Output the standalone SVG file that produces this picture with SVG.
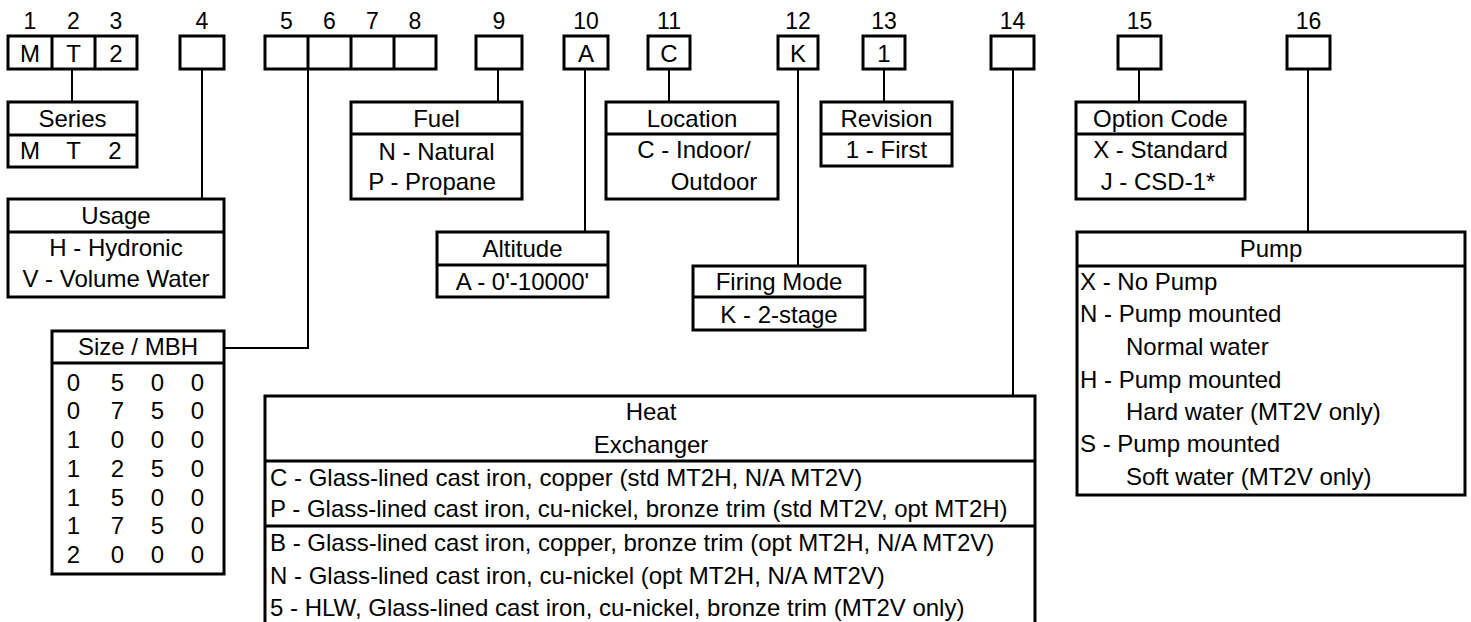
<svg xmlns="http://www.w3.org/2000/svg" width="1471" height="622" viewBox="0 0 1471 622">
<style>
.b{fill:none;stroke:#000;stroke-width:3}
.l{fill:none;stroke:#000;stroke-width:3}
.k{fill:none;stroke:#000;stroke-width:2}
text{font-family:"Liberation Sans",Arial,sans-serif;font-size:24px;fill:#000}
.m{text-anchor:middle}
.n{font-size:23px;text-anchor:middle}
</style>
<rect x="0" y="0" width="1471" height="622" fill="#fff"/>
<g id="connectors">
<path class="k" d="M72 69V102"/>
<path class="k" d="M202 69V199"/>
<path class="k" d="M308 69V348H224"/>
<path class="k" d="M498 69V102"/>
<path class="k" d="M585 69V232"/>
<path class="k" d="M669 69V102"/>
<path class="k" d="M798 69V266"/>
<path class="k" d="M884 69V102"/>
<path class="k" d="M1013 69V396"/>
<path class="k" d="M1139 69V102"/>
<path class="k" d="M1308 69V232"/>
</g>
<g id="code-boxes">
<text class="n" x="30" y="29">1</text>
<text class="n" x="73.5" y="29">2</text>
<text class="n" x="116" y="29">3</text>
<rect class="b" x="8" y="36" width="129" height="33"/>
<path class="l" d="M52 36V69M95 36V69"/>
<text class="m" x="30" y="62">M</text>
<text class="m" x="73.5" y="62">T</text>
<text class="m" x="116" y="62">2</text>
<text class="n" x="202" y="29">4</text>
<rect class="b" x="180" y="36" width="44" height="33"/>
<text class="n" x="286.5" y="29">5</text>
<text class="n" x="329.5" y="29">6</text>
<text class="n" x="372.5" y="29">7</text>
<text class="n" x="415" y="29">8</text>
<rect class="b" x="265" y="36" width="171" height="33"/>
<path class="l" d="M308 36V69M351 36V69M394 36V69"/>
<text class="n" x="499" y="29">9</text>
<rect class="b" x="476" y="36" width="46" height="33"/>
<text class="n" x="586" y="29">10</text>
<rect class="b" x="564" y="36" width="44" height="33"/>
<text class="m" x="586" y="62">A</text>
<text class="n" x="669" y="29">11</text>
<rect class="b" x="648" y="36" width="42" height="33"/>
<text class="m" x="669" y="62">C</text>
<text class="n" x="798" y="29">12</text>
<rect class="b" x="778" y="36" width="40" height="33"/>
<text class="m" x="798" y="62">K</text>
<text class="n" x="884" y="29">13</text>
<rect class="b" x="863" y="36" width="42" height="33"/>
<text class="m" x="884" y="62">1</text>
<text class="n" x="1012.5" y="29">14</text>
<rect class="b" x="991" y="36" width="43" height="33"/>
<text class="n" x="1139.5" y="29">15</text>
<rect class="b" x="1118" y="36" width="43" height="33"/>
<text class="n" x="1308.5" y="29">16</text>
<rect class="b" x="1287" y="36" width="43" height="33"/>
</g>
<g id="series">
<rect class="b" x="8" y="102" width="129" height="65"/>
<path class="l" d="M8 135H137"/>
<text class="m" x="72.5" y="127">Series</text>
<text class="m" x="30" y="159">M</text>
<text class="m" x="73.5" y="159">T</text>
<text class="m" x="115" y="159">2</text>
</g>
<g id="usage">
<rect class="b" x="8" y="199" width="216" height="98"/>
<path class="l" d="M8 232H224"/>
<text class="m" x="116" y="224">Usage</text>
<text class="m" x="116" y="256">H - Hydronic</text>
<text class="m" x="116" y="287">V - Volume Water</text>
</g>
<g id="size">
<rect class="b" x="52" y="331" width="172" height="243"/>
<path class="l" d="M52 363H224"/>
<text class="m" x="138" y="355">Size / MBH</text>
<g class="m">
<text class="m" x="73.5" y="391">0</text><text class="m" x="117.5" y="391">5</text><text class="m" x="157.5" y="391">0</text><text class="m" x="197.5" y="391">0</text>
<text class="m" x="73.5" y="419">0</text><text class="m" x="117.5" y="419">7</text><text class="m" x="157.5" y="419">5</text><text class="m" x="197.5" y="419">0</text>
<text class="m" x="73.5" y="448">1</text><text class="m" x="117.5" y="448">0</text><text class="m" x="157.5" y="448">0</text><text class="m" x="197.5" y="448">0</text>
<text class="m" x="73.5" y="477">1</text><text class="m" x="117.5" y="477">2</text><text class="m" x="157.5" y="477">5</text><text class="m" x="197.5" y="477">0</text>
<text class="m" x="73.5" y="506">1</text><text class="m" x="117.5" y="506">5</text><text class="m" x="157.5" y="506">0</text><text class="m" x="197.5" y="506">0</text>
<text class="m" x="73.5" y="534">1</text><text class="m" x="117.5" y="534">7</text><text class="m" x="157.5" y="534">5</text><text class="m" x="197.5" y="534">0</text>
<text class="m" x="73.5" y="563">2</text><text class="m" x="117.5" y="563">0</text><text class="m" x="157.5" y="563">0</text><text class="m" x="197.5" y="563">0</text>
</g>
</g>
<g id="fuel">
<rect class="b" x="351" y="102" width="171" height="97"/>
<path class="l" d="M351 134H522"/>
<text class="m" x="436.5" y="127">Fuel</text>
<text class="m" x="436.5" y="160">N - Natural</text>
<text class="m" x="432" y="190">P - Propane</text>
</g>
<g id="altitude">
<rect class="b" x="437" y="232" width="171" height="65"/>
<path class="l" d="M437 265H608"/>
<text class="m" x="522.5" y="257">Altitude</text>
<text class="m" x="522.5" y="290">A - 0'-10000'</text>
</g>
<g id="location">
<rect class="b" x="606" y="102" width="172" height="97"/>
<path class="l" d="M606 134H778"/>
<text class="m" x="692" y="127">Location</text>
<text class="m" x="694" y="158">C - Indoor/</text>
<text class="m" x="714" y="190">Outdoor</text>
</g>
<g id="firing-mode">
<rect class="b" x="693" y="266" width="172" height="64"/>
<path class="l" d="M693 297H865"/>
<text class="m" x="779" y="290">Firing Mode</text>
<text class="m" x="779" y="323">K - 2-stage</text>
</g>
<g id="revision">
<rect class="b" x="821" y="102" width="131" height="64"/>
<path class="l" d="M821 134H952"/>
<text class="m" x="886.5" y="127">Revision</text>
<text class="m" x="886.5" y="158">1 - First</text>
</g>
<g id="option-code">
<rect class="b" x="1076" y="102" width="169" height="97"/>
<path class="l" d="M1076 134H1245"/>
<text class="m" x="1160.5" y="127">Option Code</text>
<text class="m" x="1160.5" y="158">X - Standard</text>
<text class="m" x="1158" y="190">J - CSD-1*</text>
</g>
<g id="heat-exchanger">
<path class="b" d="M265 625V396H1035V625"/>
<path class="l" d="M265 461H1035M265 526H1035"/>
<text class="m" x="651" y="420">Heat</text>
<text class="m" x="651" y="453">Exchanger</text>
<text x="270" y="486">C - Glass-lined cast iron, copper (std MT2H, N/A MT2V)</text>
<text x="270" y="517">P - Glass-lined cast iron, cu-nickel, bronze trim (std MT2V, opt MT2H)</text>
<text x="270" y="551">B - Glass-lined cast iron, copper, bronze trim (opt MT2H, N/A MT2V)</text>
<text x="270" y="584">N - Glass-lined cast iron, cu-nickel (opt MT2H, N/A MT2V)</text>
<text x="270" y="616">5 - HLW, Glass-lined cast iron, cu-nickel, bronze trim (MT2V only)</text>
</g>
<g id="pump">
<rect class="b" x="1077" y="232" width="388" height="263"/>
<path class="l" d="M1077 266H1465"/>
<text class="m" x="1271" y="257">Pump</text>
<text x="1080" y="290">X - No Pump</text>
<text x="1080" y="322">N - Pump mounted</text>
<text x="1126" y="355">Normal water</text>
<text x="1080" y="388">H - Pump mounted</text>
<text x="1126" y="420">Hard water (MT2V only)</text>
<text x="1080" y="452">S - Pump mounted</text>
<text x="1126" y="485">Soft water (MT2V only)</text>
</g>
</svg>
